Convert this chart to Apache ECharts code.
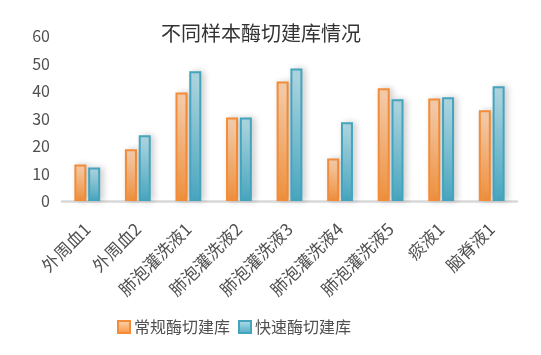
<!DOCTYPE html>
<html>
<head>
<meta charset="utf-8">
<script src="https://cdn.jsdelivr.net/npm/echarts@6/dist/echarts.min.js"></script>
<style>
  html, body { margin: 0; padding: 0; background: #fff; }
  #chart { width: 541px; height: 355px; }
</style>
</head>
<body>
<div id="chart"></div>
<script>
  // 样本类别
  var categories = ['外周血1', '外周血2', '肺泡灌洗液1', '肺泡灌洗液2', '肺泡灌洗液3', '肺泡灌洗液4', '肺泡灌洗液5', '痰液1', '脑脊液1'];
  // 常规酶切建库
  var normalValues = [13.3, 18.8, 39.5, 30.4, 43.5, 15.5, 41.0, 37.3, 33.0];
  // 快速酶切建库
  var fastValues = [12.2, 23.9, 47.2, 30.4, 48.2, 28.6, 37.0, 37.7, 41.7];
  var seriesNames = ['常规酶切建库', '快速酶切建库'];

  var font = '"Noto Sans CJK SC", "Noto Sans", sans-serif';

  function grad(top, bottom) {
    return new echarts.graphic.LinearGradient(0, 0, 0, 1, [
      { offset: 0, color: top },
      { offset: 1, color: bottom }
    ]);
  }

  var myChart = echarts.init(document.getElementById('chart'));
  var options = {
    animation: false,
    title: {
      text: '不同样本酶切建库情况',
      left: 256,
      textAlign: 'center',
      top: 18,
      textStyle: { fontFamily: font, fontSize: 20, fontWeight: 'normal', color: '#333333' }
    },
    legend: {
      left: 112,
      top: 314,
      itemWidth: 12,
      itemHeight: 12,
      itemGap: 8,
      icon: 'rect',
      textStyle: { fontFamily: font, fontSize: 16, color: '#505050', padding: [0, 0, 0, -1] },
      data: seriesNames
    },
    grid: { left: 62, right: 24, top: 36, bottom: 154, containLabel: false },
    xAxis: {
      type: 'category',
      data: categories,
      axisLine: { lineStyle: { color: '#d9d9d9', width: 2.5 } },
      axisTick: { show: false },
      axisLabel: {
        rotate: 45,
        interval: 0,
        margin: 25,
        fontFamily: font,
        fontSize: 17,
        color: '#505050'
      }
    },
    yAxis: {
      type: 'value',
      min: 0,
      max: 60,
      interval: 10,
      splitLine: { show: false },
      axisLine: { show: false },
      axisTick: { show: false },
      axisLabel: { fontFamily: font, fontSize: 16, color: '#505050', margin: 12 }
    },
    series: [
      {
        name: seriesNames[0],
        type: 'bar',
        data: normalValues,
        barWidth: 12,
        barGap: '15%',
        itemStyle: {
          color: grad('#fcd5b5', '#f7953f'),
          borderColor: '#f28c38',
          borderWidth: 2,
          shadowColor: 'rgba(0,0,0,0.18)',
          shadowBlur: 7,
          shadowOffsetX: 3
        }
      },
      {
        name: seriesNames[1],
        type: 'bar',
        data: fastValues,
        barWidth: 12,
        itemStyle: {
          color: grad('#b7dee8', '#4bacc6'),
          borderColor: '#44a3bd',
          borderWidth: 2,
          shadowColor: 'rgba(0,0,0,0.18)',
          shadowBlur: 7,
          shadowOffsetX: 3
        }
      }
    ]
  };
  myChart.setOption(options);
</script>
</body>
</html>
